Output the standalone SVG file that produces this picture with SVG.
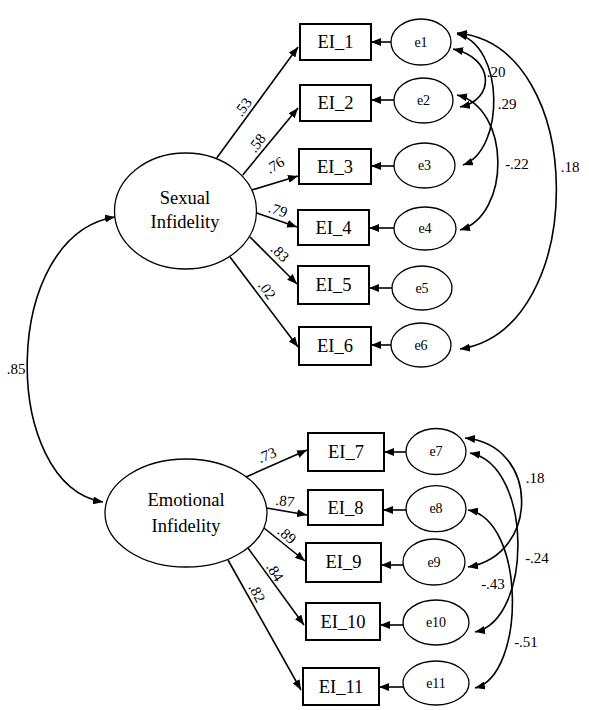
<svg xmlns="http://www.w3.org/2000/svg" width="589" height="710" viewBox="0 0 589 710">
<style>
text{font-family:"Liberation Serif","DejaVu Serif","Times New Roman",serif;fill:#000;text-anchor:middle}
.box{fill:#fff;stroke:#000;stroke-width:2}
.ell{fill:#fff;stroke:#000;stroke-width:1.3}
.bt{font-size:18.5px}
.lt{font-size:18.5px}
.et{font-size:14px}
.nt{font-size:15px}
.c{fill:none;stroke:#000;stroke-width:1.6}
</style>
<defs>
<marker id="ah" viewBox="0 0 10 8" refX="10" refY="4" markerWidth="10" markerHeight="8" markerUnits="userSpaceOnUse" orient="auto-start-reverse">
<path d="M0,0 L10,4 L0,8 Z" fill="#000"/>
</marker>
</defs>
<rect width="589" height="710" fill="#fff"/>

<g id="connectors">
<path class="c" d="M216.7,158 L298,47" marker-end="url(#ah)"/>
<path class="c" d="M242.7,175 L298,108" marker-end="url(#ah)"/>
<path class="c" d="M251.7,190 L298,176" marker-end="url(#ah)"/>
<path class="c" d="M256.7,213 L297,227" marker-end="url(#ah)"/>
<path class="c" d="M250,237 L297,284" marker-end="url(#ah)"/>
<path class="c" d="M230,257 L298,347" marker-end="url(#ah)"/>
<path class="c" d="M246,477 L307,450" marker-end="url(#ah)"/>
<path class="c" d="M266.7,508 L307,515" marker-end="url(#ah)"/>
<path class="c" d="M262.7,527 L305,561" marker-end="url(#ah)"/>
<path class="c" d="M248,548 L304,625" marker-end="url(#ah)"/>
<path class="c" d="M228,560 L301,690" marker-end="url(#ah)"/>
<path class="c" d="M391,42 L371,42" marker-end="url(#ah)"/>
<path class="c" d="M394,100 L371,100" marker-end="url(#ah)"/>
<path class="c" d="M394,166 L371,166" marker-end="url(#ah)"/>
<path class="c" d="M394,228 L369,228" marker-end="url(#ah)"/>
<path class="c" d="M392,288 L369,288" marker-end="url(#ah)"/>
<path class="c" d="M391,345 L371,345" marker-end="url(#ah)"/>
<path class="c" d="M406,452 L384,452" marker-end="url(#ah)"/>
<path class="c" d="M406,510 L383,510" marker-end="url(#ah)"/>
<path class="c" d="M403,565 L381,565" marker-end="url(#ah)"/>
<path class="c" d="M403,625 L380,625" marker-end="url(#ah)"/>
<path class="c" d="M403,687 L379,687" marker-end="url(#ah)"/>
<path class="c" d="M115,217 C0,235 0,485 103,502" marker-start="url(#ah)" marker-end="url(#ah)"/>
<path class="c" d="M453,49 C495,58 495,100 460,107" marker-start="url(#ah)" marker-end="url(#ah)"/>
<path class="c" d="M457,34 C505,45 505,150 463,165" marker-start="url(#ah)" marker-end="url(#ah)"/>
<path class="c" d="M457,95 C511,108 511,215 460,230" marker-start="url(#ah)" marker-end="url(#ah)"/>
<path class="c" d="M457,33 C589,45 589,330 460,349" marker-start="url(#ah)" marker-end="url(#ah)"/>
<path class="c" d="M465,438 C540,445 540,555 468,567" marker-start="url(#ah)" marker-end="url(#ah)"/>
<path class="c" d="M470,453 C533,465 533,620 475,632" marker-start="url(#ah)" marker-end="url(#ah)"/>
<path class="c" d="M468,510 C526,520 526,675 475,688" marker-start="url(#ah)" marker-end="url(#ah)"/>
</g>

<g id="labels">
<text class="nt" x="243" y="112" transform="rotate(-54.5 243 107)">.53</text>
<text class="nt" x="257" y="148" transform="rotate(-52 257 143)">.58</text>
<text class="nt" x="275" y="170" transform="rotate(-30 275 165)">.76</text>
<text class="nt" x="278" y="215" transform="rotate(19 278 210)">.79</text>
<text class="nt" x="280" y="258" transform="rotate(45 280 253)">.83</text>
<text class="nt" x="267" y="295" transform="rotate(55 267 290)">.02</text>
<text class="nt" x="267" y="460" transform="rotate(-22 267 455)">.73</text>
<text class="nt" x="285" y="506" transform="rotate(7 285 501)">.87</text>
<text class="nt" x="287" y="540" transform="rotate(40 287 535)">.89</text>
<text class="nt" x="275" y="577" transform="rotate(58 275 572)">.84</text>
<text class="nt" x="257" y="598" transform="rotate(63 257 593)">.82</text>
<text class="nt" x="16" y="374">.85</text>
<text class="nt" x="496" y="77">.20</text>
<text class="nt" x="507" y="109">.29</text>
<text class="nt" x="517" y="169">-.22</text>
<text class="nt" x="570" y="172">.18</text>
<text class="nt" x="535" y="483">.18</text>
<text class="nt" x="537" y="563">-.24</text>
<text class="nt" x="493" y="589">-.43</text>
<text class="nt" x="526" y="647">-.51</text>
</g>

<g id="sexual"><ellipse class="ell" cx="185.5" cy="211" rx="71" ry="58"/><text class="lt" x="185" y="204">Sexual</text><text class="lt" x="185" y="228">Infidelity</text></g>
<g id="emotional"><ellipse class="ell" cx="186" cy="513" rx="81" ry="54"/><text class="lt" x="186" y="506">Emotional</text><text class="lt" x="186" y="532">Infidelity</text></g>

<g id="EI_1"><rect class="box" x="300" y="24" width="71" height="36"/><text class="bt" x="335.5" y="48">EI_1</text></g>
<g id="EI_2"><rect class="box" x="300" y="85" width="71" height="36"/><text class="bt" x="335.5" y="109">EI_2</text></g>
<g id="EI_3"><rect class="box" x="299" y="149" width="72" height="35"/><text class="bt" x="335" y="173">EI_3</text></g>
<g id="EI_4"><rect class="box" x="298" y="210" width="71" height="35"/><text class="bt" x="333.5" y="234">EI_4</text></g>
<g id="EI_5"><rect class="box" x="298" y="266" width="71" height="38"/><text class="bt" x="333.5" y="291">EI_5</text></g>
<g id="EI_6"><rect class="box" x="299" y="327" width="72" height="38"/><text class="bt" x="335" y="352">EI_6</text></g>
<g id="EI_7"><rect class="box" x="308" y="433" width="76" height="38"/><text class="bt" x="346" y="458">EI_7</text></g>
<g id="EI_8"><rect class="box" x="308" y="490" width="75" height="35"/><text class="bt" x="345.5" y="514">EI_8</text></g>
<g id="EI_9"><rect class="box" x="306" y="543" width="75" height="39"/><text class="bt" x="343.5" y="568">EI_9</text></g>
<g id="EI_10"><rect class="box" x="306" y="603" width="74" height="37"/><text class="bt" x="343" y="628">EI_10</text></g>
<g id="EI_11"><rect class="box" x="303" y="668" width="76" height="37"/><text class="bt" x="341" y="693">EI_11</text></g>

<g id="e1"><ellipse class="ell" cx="421" cy="42" rx="30" ry="23"/><text class="et" x="421" y="47">e1</text></g>
<g id="e2"><ellipse class="ell" cx="423.5" cy="100.5" rx="29.5" ry="22.5"/><text class="et" x="423.5" y="105">e2</text></g>
<g id="e3"><ellipse class="ell" cx="424.5" cy="165.5" rx="30.5" ry="22.5"/><text class="et" x="424.5" y="170">e3</text></g>
<g id="e4"><ellipse class="ell" cx="425" cy="228.5" rx="31" ry="21.5"/><text class="et" x="425" y="233">e4</text></g>
<g id="e5"><ellipse class="ell" cx="422" cy="288" rx="30" ry="22"/><text class="et" x="422" y="293">e5</text></g>
<g id="e6"><ellipse class="ell" cx="421" cy="345" rx="30" ry="22"/><text class="et" x="421" y="350">e6</text></g>
<g id="e7"><ellipse class="ell" cx="436" cy="451.5" rx="30" ry="23"/><text class="et" x="436" y="456">e7</text></g>
<g id="e8"><ellipse class="ell" cx="436" cy="508.7" rx="30" ry="23"/><text class="et" x="436" y="513">e8</text></g>
<g id="e9"><ellipse class="ell" cx="434" cy="562" rx="31" ry="23"/><text class="et" x="434" y="567">e9</text></g>
<g id="e10"><ellipse class="ell" cx="436" cy="622.5" rx="33" ry="22.5"/><text class="et" x="436" y="627">e10</text></g>
<g id="e11"><ellipse class="ell" cx="436" cy="683" rx="33" ry="22"/><text class="et" x="436" y="688">e11</text></g>
</svg>
